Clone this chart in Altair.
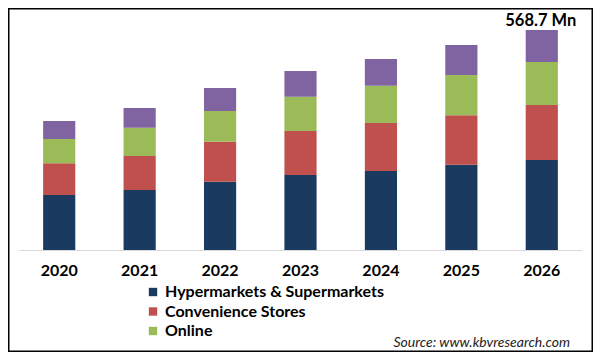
import altair as alt
import pandas as pd

years = ["2020", "2021", "2022", "2023", "2024", "2025", "2026"]
segments = ["Hypermarkets & Supermarkets", "Convenience Stores", "Online", "Others"]
hyper = [142.2, 155.1, 176.6, 193.9, 204.2, 220.5, 232.7]
conv = [81.9, 87.9, 103.4, 113.7, 124.1, 127.7, 142.2]
online = [62.8, 73.2, 79.4, 88.7, 96.4, 104.2, 111.2]
others = [46.5, 50.9, 59.5, 66.4, 69.0, 77.6, 82.7]
colors = ["#1b3a5f", "#c0504d", "#9bbb59", "#8064a2"]
total_label = "568.7 Mn"
source_text = "Source: www.kbvresearch.com"

rows = []
for i, y in enumerate(years):
    for k, (seg, vals) in enumerate(zip(segments, [hyper, conv, online, others])):
        rows.append({"year": y, "segment": seg, "value": vals[i], "order": k})
df = pd.DataFrame(rows)

W, H = 563, 232
FONT = "Lato"

x_enc = alt.X("year:N", sort=years,
              scale=alt.Scale(paddingInner=0.6, paddingOuter=0.3),
              axis=alt.Axis(title=None, labelAngle=0, ticks=False, domain=True,
                            domainColor="#d9d9d9", domainWidth=1,
                            labelFont=FONT, labelFontWeight="bold", labelFontSize=16,
                            labelColor="#000000", labelPadding=12, grid=False))

bars = alt.Chart(df).mark_bar().encode(
    x=x_enc,
    y=alt.Y("value:Q", stack="zero", scale=alt.Scale(domain=[0, 600]), axis=None),
    color=alt.Color("segment:N",
                    scale=alt.Scale(domain=segments, range=colors),
                    legend=alt.Legend(title=None, values=segments[:3], orient="none",
                                      legendX=126, legendY=266, symbolType="square",
                                      symbolSize=70, symbolStrokeWidth=0,
                                      labelFont=FONT, labelFontWeight="bold",
                                      labelFontSize=16, labelColor="#000000",
                                      labelLimit=0, rowPadding=3.5, labelOffset=4)),
    order=alt.Order("order:Q", sort="ascending"),
)

tot_df = pd.DataFrame({"year": [years[-1]],
                       "total": [hyper[-1] + conv[-1] + online[-1] + others[-1]],
                       "label": [total_label]})
label = alt.Chart(tot_df).mark_text(font=FONT, fontWeight="bold", fontSize=16.5,
                                    baseline="alphabetic", dy=-4, dx=-1, color="#000000").encode(
    x=alt.X("year:N", sort=years), y=alt.Y("total:Q"), text="label:N")

src = alt.Chart(pd.DataFrame({"t": [source_text]})).mark_text(
    font=FONT, fontStyle="italic", fontSize=14, align="right", baseline="alphabetic",
    color="#222222").encode(x=alt.value(551), y=alt.value(329), text="t:N")

border = alt.Chart(pd.DataFrame({"a": [0]})).mark_rect(
    fill=None, stroke="#000000", strokeWidth=1.5).encode(
    x=alt.value(-10.25), x2=alt.value(W + 10.25), y=alt.value(-9.25), y2=alt.value(H + 101.25))

chart = alt.layer(bars, label, src, border).properties(
    width=W, height=H,
    padding={"left": 11, "top": 10, "right": 11, "bottom": 102},
    autosize=alt.AutoSizeParams(type="none"),
    background="#ffffff",
).configure_view(stroke=None)

chart.save("out.html", embed_options={"renderer": "svg", "actions": False})
